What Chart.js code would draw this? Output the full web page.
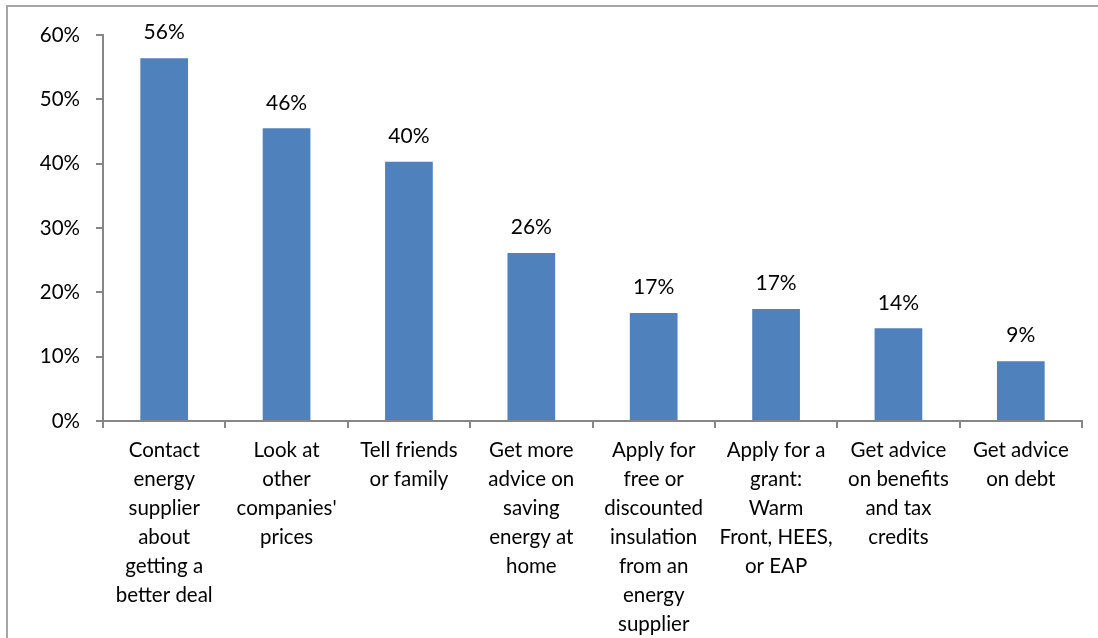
<!DOCTYPE html>
<html>
<head>
<meta charset="utf-8">
<script src="https://cdn.jsdelivr.net/npm/chart.js@4/dist/chart.umd.min.js"></script>
<style>
  html, body { margin: 0; padding: 0; background: #fff; overflow: hidden; }
  #frame { position: absolute; left: 6px; top: 5px; width: 1200px; height: 800px; border: 2px solid #a6a6a6; }
  #wrap { position: absolute; left: 0; top: 0; width: 1098px; height: 638px; }
</style>
</head>
<body>
<div id="frame"></div>
<div id="wrap"><canvas id="chart" width="1098" height="638"></canvas></div>
<script>
const categories = [
  ['Contact', 'energy', 'supplier', 'about', 'getting a', 'better deal'],
  ['Look at', 'other', "companies'", 'prices'],
  ['Tell friends', 'or family'],
  ['Get more', 'advice on', 'saving', 'energy at', 'home'],
  ['Apply for', 'free or', 'discounted', 'insulation', 'from an', 'energy', 'supplier'],
  ['Apply for a', 'grant:', 'Warm', 'Front, HEES,', 'or EAP'],
  ['Get advice', 'on benefits', 'and tax', 'credits'],
  ['Get advice', 'on debt']
];
const shares = [56.4, 45.5, 40.3, 26.1, 16.8, 17.4, 14.4, 9.3];
const yTicks = [0, 10, 20, 30, 40, 50, 60];

const FONT = 'Lato, "Open Sans", sans-serif';
const AXIS = '#868686';

// percentage above each bar
const valueLabels = {
  id: 'valueLabels',
  afterDatasetsDraw(chart) {
    const ctx = chart.ctx;
    const meta = chart.getDatasetMeta(0);
    ctx.save();
    ctx.font = '21px ' + FONT;
    ctx.fillStyle = '#000';
    ctx.textAlign = 'center';
    ctx.textBaseline = 'bottom';
    meta.data.forEach((bar, i) => {
      ctx.fillText(Math.round(shares[i]) + '%', bar.x, bar.y - 15);
    });
    ctx.restore();
  }
};

new Chart(document.getElementById('chart'), {
  type: 'bar',
  data: {
    labels: categories,
    datasets: [{
      data: shares,
      backgroundColor: '#4f81bd',
      categoryPercentage: 0.39,
      barPercentage: 1
    }]
  },
  options: {
    responsive: false,
    animation: false,
    layout: { padding: { top: 35, right: 16, left: 0, bottom: 0 } },
    plugins: {
      legend: { display: false },
      tooltip: { enabled: false }
    },
    scales: {
      x: {
        afterFit(scale) { scale.height = 217; },
        grid: { drawOnChartArea: false, tickLength: 7, color: AXIS, lineWidth: 2, offset: true },
        border: { color: AXIS, width: 2 },
        ticks: {
          color: '#000',
          padding: 8,
          maxRotation: 0,
          autoSkip: false,
          font: { family: FONT, size: 20.5, lineHeight: '29px' }
        }
      },
      y: {
        min: 0,
        max: 60,
        afterFit(scale) { scale.width = 103; },
        afterBuildTicks(scale) { scale.ticks = yTicks.map(v => ({ value: v })); },
        grid: { drawOnChartArea: false, tickLength: 7, color: AXIS, lineWidth: 2 },
        border: { color: AXIS, width: 2 },
        ticks: {
          color: '#000',
          padding: 16,
          font: { family: FONT, size: 20.5 },
          callback: v => v + '%'
        }
      }
    }
  },
  plugins: [valueLabels]
});
</script>
</body>
</html>
